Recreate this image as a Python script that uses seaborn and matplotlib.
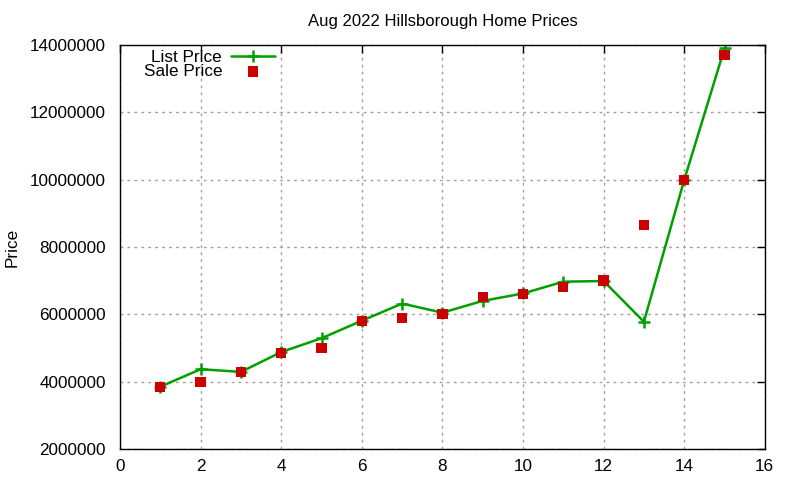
import matplotlib
matplotlib.use("Agg")
import matplotlib.pyplot as plt
import seaborn as sns
import pandas as pd

rank = [1, 2, 3, 4, 5, 6, 7, 8, 9, 10, 11, 12, 13, 14, 15]
list_price = [3850000, 4370000, 4290000, 4880000, 5290000, 5810000, 6320000, 6050000,
              6400000, 6620000, 6970000, 6990000, 5780000, 9990000, 13900000]
sale_price = [3840000, 4000000, 4290000, 4850000, 5010000, 5800000, 5900000, 6020000,
              6520000, 6610000, 6820000, 7010000, 8660000, 10000000, 13710000]

df = pd.DataFrame({"x": rank, "list": list_price, "sale": sale_price})

sns.set_style("white")
plt.rcParams['font.family'] = ['Liberation Sans', 'DejaVu Sans']
plt.rcParams['text.color'] = 'black'
plt.rcParams['axes.labelcolor'] = 'black'

fig = plt.figure(figsize=(8, 4.8), dpi=100)
ax = fig.add_axes([0.15, 0.0646, 0.806, 0.8415])

sns.lineplot(data=df, x="x", y="list", ax=ax, color="#00a000", linewidth=1.8,
             marker="+", markersize=9, markeredgewidth=1.8, markeredgecolor="#00a000",
             label="List Price")
sns.scatterplot(data=df, x="x", y="sale", ax=ax, color="#cc0000", marker="s", s=55,
                edgecolor="none", linewidth=0, label="Sale Price", zorder=3)

ax.set_xlim(0, 16)
ax.set_ylim(2000000, 14000000)
ax.set_xticks(range(0, 17, 2))
ax.set_yticks(range(2000000, 14000001, 2000000))
ax.set_yticklabels([str(v) for v in range(2000000, 14000001, 2000000)])
ax.grid(True, color="#a0a0a0", linestyle=(0, (2, 3)), linewidth=1)
ax.tick_params(direction="in", length=6, top=True, right=True, labelsize=12.3,
               colors="black", width=1)
ax.tick_params(axis="y", pad=10)
ax.tick_params(axis="x", pad=7)
for s in ax.spines.values():
    s.set_color("black")
    s.set_linewidth(1)
ax.set_xlabel("")
ax.set_ylabel("Price", fontsize=12.3, color="black")
ax.yaxis.set_label_coords(-0.155, 0.5)
ax.set_title("Aug 2022 Hillsborough Home Prices", fontsize=12, pad=14, color="black")

leg = ax.legend(loc="upper left", bbox_to_anchor=(0.018, 1.018), frameon=False,
                markerfirst=False, fontsize=12.3, handlelength=2.6,
                labelspacing=-0.05, borderaxespad=0.3, handletextpad=0.5)
for t in leg.get_texts():
    t.set_color("black")

fig.savefig("out.png", dpi=100)
